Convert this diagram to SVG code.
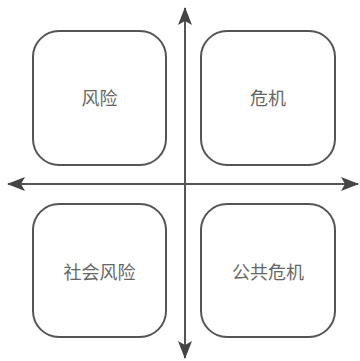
<svg xmlns="http://www.w3.org/2000/svg" width="360" height="361" viewBox="0 0 360 361">
<defs>
<style>
.box{fill:#fff;stroke:#555;stroke-width:2}
.lbl{font-family:"Noto Sans CJK SC","Noto Sans",sans-serif;font-size:18px;fill:#666;text-anchor:middle;dominant-baseline:central}
.axis{stroke:#555;stroke-width:2;fill:none}
</style>
<marker id="ah" viewBox="0 0 18 14" refX="17" refY="7" markerWidth="18" markerHeight="14" markerUnits="userSpaceOnUse" orient="auto">
<path d="M0,0 L18,7 L0,14 L4,7 Z" fill="#444"/>
</marker>
</defs>
<rect width="360" height="361" fill="#fff"/>
<g id="connectors">
<line class="axis" x1="185" y1="184" x2="185" y2="8" marker-end="url(#ah)"/>
<line class="axis" x1="185" y1="184" x2="185" y2="358" marker-end="url(#ah)"/>
<line class="axis" x1="185" y1="184" x2="8" y2="184" marker-end="url(#ah)"/>
<line class="axis" x1="185" y1="184" x2="358" y2="184" marker-end="url(#ah)"/>
</g>
<g id="risk">
<rect class="box" x="33" y="31" width="133" height="134" rx="26"/>
<text class="lbl" x="99.5" y="97">风险</text>
</g>
<g id="crisis">
<rect class="box" x="201" y="31" width="134" height="134" rx="26"/>
<text class="lbl" x="268" y="97">危机</text>
</g>
<g id="social-risk">
<rect class="box" x="33" y="204" width="133" height="133" rx="26"/>
<text class="lbl" x="99.5" y="271">社会风险</text>
</g>
<g id="public-crisis">
<rect class="box" x="201" y="204" width="134" height="133" rx="26"/>
<text class="lbl" x="268" y="271">公共危机</text>
</g>
</svg>
